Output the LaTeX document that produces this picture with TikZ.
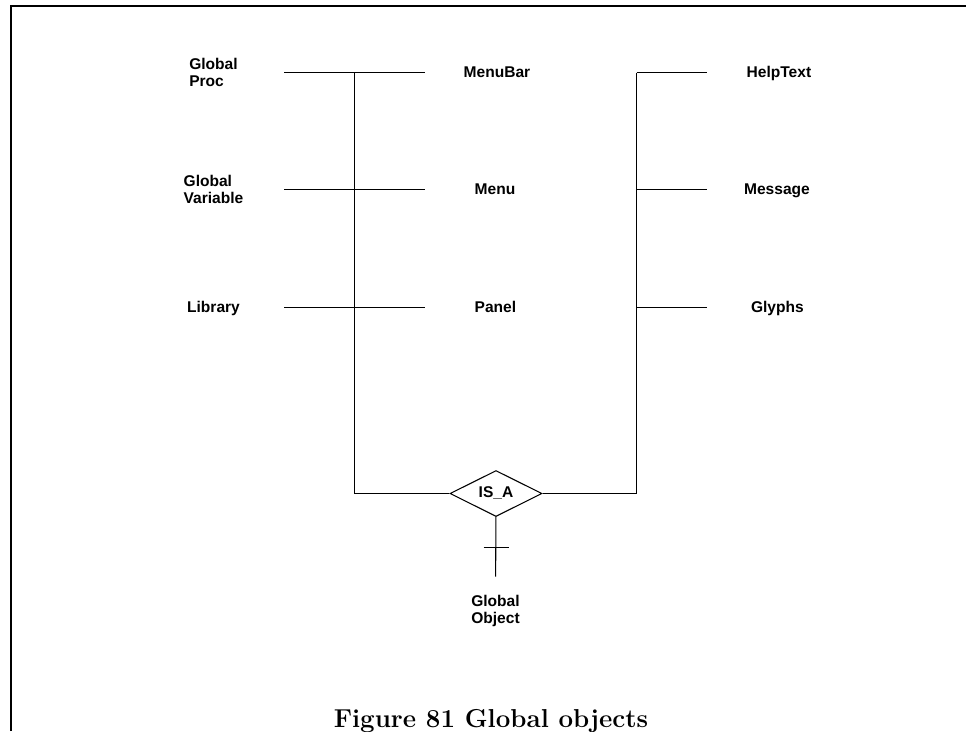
\documentclass[tikz,border=0pt]{standalone}
\usepackage{fontspec}
\newfontfamily\labelfont{Liberation Sans}
\usetikzlibrary{shapes.geometric,positioning}

\begin{document}
\begin{tikzpicture}[x=0.02cm,y=-0.02cm,node distance=5.64cm,line width=0.6pt]
		  \tikzstyle{twoline}=[inner sep=0pt,align=left,font=\labelfont\bfseries\fontsize{8.85}{9.7}\selectfont]
		  \tikzstyle{entity}=[twoline,text height=1.55ex,text depth=0.3ex]
		  \tikzstyle{relation}=[diamond,draw,aspect=2,inner sep=0pt,minimum width=1.84cm,minimum height=0.92cm,font=\labelfont\bfseries\fontsize{8.85}{9.7}\selectfont]

		  \useasboundingbox (0,0) rectangle (966,731);
		  \draw[line width=1.4pt] (11,731) -- (11,6) -- (966,6);

		  \node[twoline] (GP) at (213.5,72.5) {Global\\Proc};
		  \node[entity] (MB) at (497,72.5) {MenuBar};
		  \node[entity] (HT) [right of=MB] {HelpText};
		  \node[twoline] (GV) at (213.5,189.5) {Global\\Variable};
		  \node[entity] (MN) at (495,189.5) {Menu};
		  \node[entity] (MS) [right of=MN] {Message};
		  \node[entity] (LB) at (213.5,307.5) {Library};
		  \node[entity] (PN) [right of=LB] {Panel};
		  \node[entity] (GL) [right of=PN] {Glyphs};

		  \node[relation] (ISA) at (496,493.5) {IS\_A};
		  \node[twoline,align=center] (GO) at (495.5,611) {Global\\Object};

		  \coordinate (Ltop) at (354.5,72.5);
		  \coordinate (Rtop) at (636.5,72.5);
		  \coordinate (Tick) at (496,547.5);

		  % left column to middle column
		  \path[draw] (MB.center -| 284,0) -- (MB.center -| 425,0);
		  \path[draw] (MN.center -| 284,0) -- (MN.center -| 425,0);
		  \path[draw] (PN.center -| 284,0) -- (PN.center -| 425,0);

		  % buses into the IS_A relation
		  \draw (Ltop) -- (Ltop |- ISA) -- (ISA);
		  \draw (Rtop) -- (Rtop |- ISA) -- (ISA);

		  % right column
		  \path[draw] (Rtop) -- (HT.center -| 707,0);
		  \path[draw] (Rtop |- MS) -- (MS.center -| 707,0);
		  \path[draw] (Rtop |- GL) -- (GL.center -| 707,0);

		  % supertype
		  \path[draw,shorten >=0.36cm] (ISA) -- (GO);
		  \draw ([xshift=-0.25cm]Tick) -- ([xshift=0.25cm]Tick);

		  \node[anchor=base,font=\bfseries\fontsize{14.75}{17}\selectfont] (CAP) at (491,727) {Figure 81 Global objects};
		\end{tikzpicture}
\end{document}
